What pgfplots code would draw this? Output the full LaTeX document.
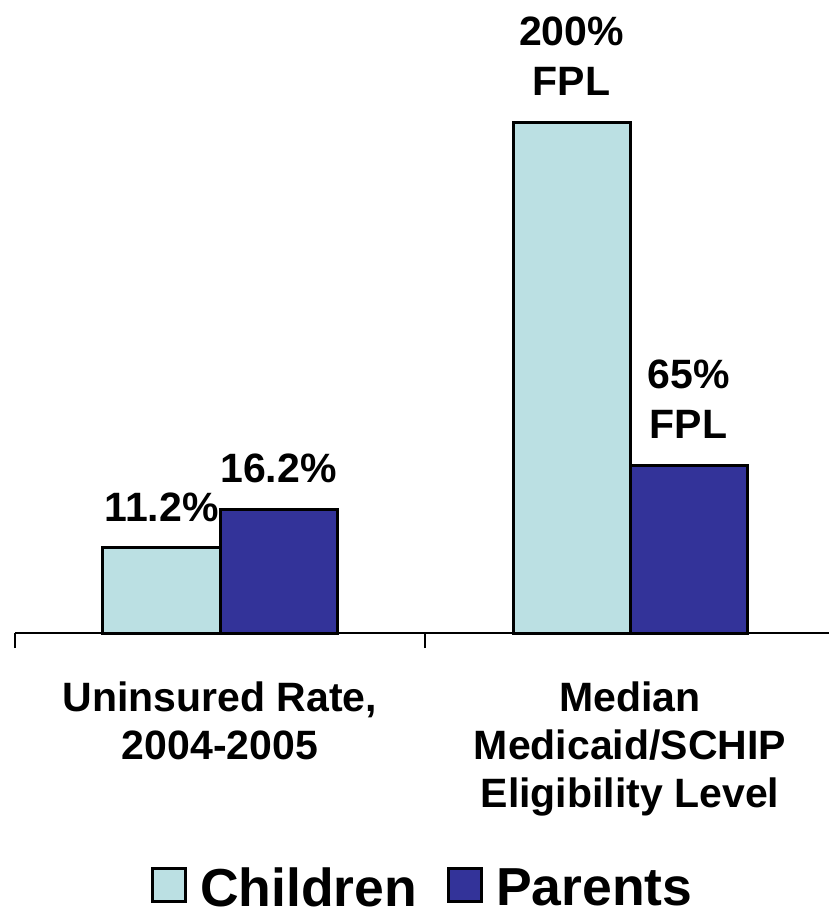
\documentclass[border=0pt]{standalone}
\usepackage{fontspec}
\setmainfont{Liberation Sans}
\usepackage{pgfplots}
\pgfplotsset{compat=1.18}
\definecolor{kid}{HTML}{BBE0E3}
\definecolor{par}{HTML}{333399}
\begin{document}
\begin{tikzpicture}
\useasboundingbox (0pt,0pt) rectangle (414.5pt,455.5pt);
\begin{axis}[
  at={(7.5pt,139pt)}, anchor=south west,
  scale only axis, width=410pt, height=304pt,
  xmin=-0.5, xmax=1.5, ymin=0, ymax=80,
  axis x line=bottom, axis y line=none,
  axis line style={-, line width=1pt, black},
  xtick={0,1},
  xticklabels={{Uninsured Rate,\\2004-2005},{Median\\Medicaid/SCHIP\\Eligibility Level}},
  xticklabel style={align=center, font=\fontsize{20.5}{24}\selectfont\bfseries, inner sep=0pt},
  xticklabel shift=24pt,
  major tick length=0pt,
  minor xtick={-0.5,0.5,1.5},
  minor tick length=7.5pt,
  tick align=outside,
  minor tick style={black, line width=1pt},
  ybar=0pt, bar width=58.5pt,
  point meta=explicit symbolic,
  nodes near coords,
  every node near coord/.append style={font=\fontsize{20.5}{25}\selectfont\bfseries, align=center, inner sep=0pt, anchor=south, yshift=12.5pt, text=black},
  legend image code/.code={\draw[#1, line width=1.5pt, x=1pt, y=1pt] (0.75,-7.25) rectangle (17.25,9.25);},
  legend style={at={(0.496,-0.418)}, anchor=center, draw=none, fill=none,
    font=\fontsize{26.75}{30}\selectfont\bfseries, legend columns=2,
    nodes={inner sep=0pt, text depth=0pt},
    /tikz/every odd column/.append style={column sep=6.5pt},
    /tikz/every even column/.append style={column sep=15pt}},
  clip=false,
]
\addplot[fill=kid, draw=black, line width=1.5pt] coordinates {(0,11.2) [11.2\%] (1,67.2) [{200\%\\FPL}]};
\addplot[fill=par, draw=black, line width=1.5pt] coordinates {(0,16.2) [16.2\%] (1,22.1) [{65\%\\FPL}]};
\legend{Children,Parents}
\end{axis}
\end{tikzpicture}
\end{document}
